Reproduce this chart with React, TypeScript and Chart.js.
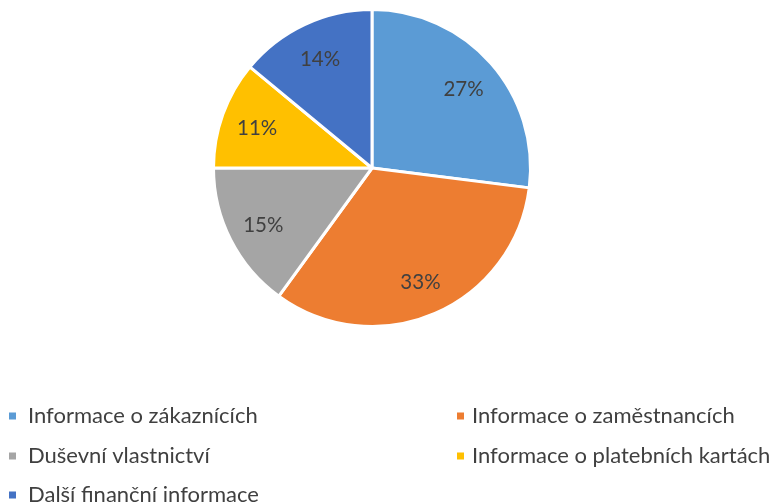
import React, { useEffect, useRef } from "react";
import { Chart, registerables } from "chart.js";

Chart.register(...registerables);

const categories = [
  "Informace o zákaznících",
  "Informace o zaměstnancích",
  "Duševní vlastnictví",
  "Informace o platebních kartách",
  "Další finanční informace",
];
const values = [27, 33, 15, 11, 14];
const colors = ["#5B9BD5", "#ED7D31", "#A5A5A5", "#FFC000", "#4472C4"];

const FONT = "Lato, 'Open Sans', sans-serif";

const labelPlugin = {
  id: "sliceLabels",
  afterDatasetsDraw(chart: any) {
    const ctx = chart.ctx;
    const meta = chart.getDatasetMeta(0);
    const data = chart.data.datasets[0].data as number[];
    const total = data.reduce((a, b) => a + b, 0);
    ctx.save();
    ctx.font = `20.5px ${FONT}`;
    ctx.fillStyle = "#404040";
    ctx.textAlign = "center";
    ctx.textBaseline = "middle";
    meta.data.forEach((arc: any, i: number) => {
      const p = arc.getProps(["x", "y", "startAngle", "endAngle", "outerRadius"], true);
      const mid = (p.startAngle + p.endAngle) / 2;
      const r = p.outerRadius * 0.77;
      const x = p.x + Math.cos(mid) * r;
      const y = p.y + Math.sin(mid) * r + 2;
      ctx.fillText(Math.round((data[i] / total) * 100) + "%", x, y);
    });
    ctx.restore();
  },
};

const legendPlugin = {
  id: "customLegend",
  afterDraw(chart: any) {
    const ctx = chart.ctx;
    const labels = chart.data.labels as string[];
    const bg = chart.data.datasets[0].backgroundColor as string[];
    const colX = [9, 457];
    const rowY = [416, 456, 495];
    ctx.save();
    ctx.font = `22px ${FONT}`;
    ctx.textAlign = "left";
    ctx.textBaseline = "middle";
    labels.forEach((lab, i) => {
      const cx = colX[i % 2];
      const cy = rowY[Math.floor(i / 2)];
      ctx.fillStyle = bg[i];
      ctx.fillRect(cx, cy - 3.5, 7, 7);
      ctx.fillStyle = "#404040";
      ctx.fillText(lab, cx + (i % 2 === 0 ? 19 : 15), cy);
    });
    ctx.restore();
  },
};

export default function App() {
  const ref = useRef<HTMLCanvasElement>(null);
  useEffect(() => {
    if (!ref.current) return;
    const chart = new Chart(ref.current, {
      type: "pie",
      data: {
        labels: categories,
        datasets: [
          {
            data: values,
            backgroundColor: colors,
            borderColor: "#FFFFFF",
            borderWidth: 3,
          },
        ],
      },
      options: {
        animation: false,
        responsive: false,
        layout: { padding: { top: 8, bottom: 176, left: 0, right: 33 } },
        plugins: {
          legend: { display: false },
          tooltip: { enabled: false },
        },
      },
      plugins: [labelPlugin, legendPlugin],
    });
    return () => chart.destroy();
  }, []);
  return (
    <div style={{ position: "fixed", left: 0, top: 0, width: 777, height: 504, background: "#fff" }}>
      <canvas ref={ref} width={777} height={504} style={{ width: 777, height: 504 }} />
    </div>
  );
}
